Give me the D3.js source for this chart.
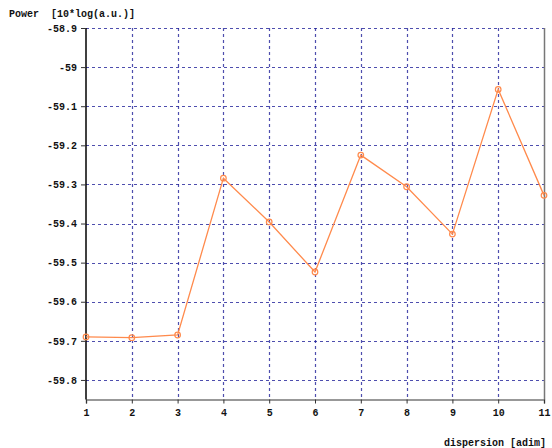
<!DOCTYPE html>
<html>
<head>
<meta charset="utf-8">
<script src="https://cdn.jsdelivr.net/npm/d3@7"></script>
<style>
  html, body { margin: 0; padding: 0; background: #fff; }
  svg { display: block; }
  text { font-family: "Liberation Mono", "DejaVu Sans Mono", monospace; font-weight: bold; font-size: 10px; fill: #111; white-space: pre; }
</style>
</head>
<body>
<script>
// Measured power for each dispersion step
const dispersion = [1, 2, 3, 4, 5, 6, 7, 8, 9, 10, 11];
const power = [-59.69, -59.692, -59.685, -59.284, -59.396, -59.524, -59.225, -59.306, -59.427, -59.057, -59.328];
const yTicks = [-58.9, -59, -59.1, -59.2, -59.3, -59.4, -59.5, -59.6, -59.7, -59.8];
const xTicks = [1, 2, 3, 4, 5, 6, 7, 8, 9, 10, 11];

const W = 552, H = 448;
const svg = d3.select("body").append("svg").attr("width", W).attr("height", H);

const x = d3.scaleLinear().domain([1, 11]).range([86, 544]);
const y = d3.scaleLinear().domain([-59.85, -58.9]).range([399.5, 28]);

const gridColor = "#22229a";

// grid
svg.append("g").selectAll("line.h").data(yTicks).join("line")
  .attr("x1", x(1)).attr("x2", x(11))
  .attr("y1", d => Math.round(y(d)) + 0.5).attr("y2", d => Math.round(y(d)) + 0.5)
  .attr("stroke", gridColor).attr("stroke-width", 1.2).attr("stroke-dasharray", "3,3").attr("opacity", 0.8);
svg.append("g").selectAll("line.v").data(xTicks.slice(1, -1)).join("line")
  .attr("x1", d => Math.round(x(d)) + 0.5).attr("x2", d => Math.round(x(d)) + 0.5)
  .attr("y1", y(-58.9)).attr("y2", y(-59.85))
  .attr("stroke", gridColor).attr("stroke-width", 1.2).attr("stroke-dasharray", "3,3").attr("opacity", 0.8);

// frame: right and bottom in grey, left axis in black
svg.append("line").attr("x1", x(11) + 0.5).attr("x2", x(11) + 0.5).attr("y1", y(-58.9)).attr("y2", y(-59.85))
  .attr("stroke", "#777").attr("stroke-width", 1.5);

// x axis
const xAxis = d3.axisBottom(x).tickValues(xTicks).tickFormat(d3.format("d")).tickSize(4).tickPadding(5);
const gx = svg.append("g").attr("transform", `translate(0,${y(-59.85)})`).call(xAxis);
gx.select(".domain").attr("stroke", "#777").attr("stroke-width", 1.5);
gx.selectAll(".tick line").attr("stroke", "#333");
gx.selectAll("text").attr("font-size", 10.5).attr("font-family", null).attr("fill", null);

// y axis
const yAxis = d3.axisLeft(y).tickValues(yTicks).tickFormat(d => String(d)).tickSize(5).tickPadding(4);
const gy = svg.append("g").attr("transform", `translate(${x(1)},0)`).call(yAxis);
gy.select(".domain").attr("stroke", "#000").attr("stroke-width", 1.5).attr("d", `M0,${y(-58.9)}V${y(-59.85)}`);
gy.selectAll(".tick line").attr("stroke", "#333");
gy.selectAll("text").attr("font-size", 10.5).attr("font-family", null).attr("fill", null);

// series
const color = "#ff8a4c";
const pts = dispersion.map((d, i) => [d, power[i]]);
svg.append("path").datum(pts)
  .attr("fill", "none").attr("stroke", color).attr("stroke-width", 1.3)
  .attr("d", d3.line().x(d => x(d[0])).y(d => y(d[1])));
svg.append("g").selectAll("circle").data(pts).join("circle")
  .attr("cx", d => x(d[0])).attr("cy", d => y(d[1])).attr("r", 2.8)
  .attr("fill", "none").attr("stroke", color).attr("stroke-width", 1.2);

// axis titles
svg.append("text").attr("x", 9).attr("y", 17).attr("font-size", 11).text("Power  [10*log(a.u.)]");
svg.append("text").attr("x", 546).attr("y", 446).attr("font-size", 11).attr("text-anchor", "end").text("dispersion [adim]");
</script>
</body>
</html>
